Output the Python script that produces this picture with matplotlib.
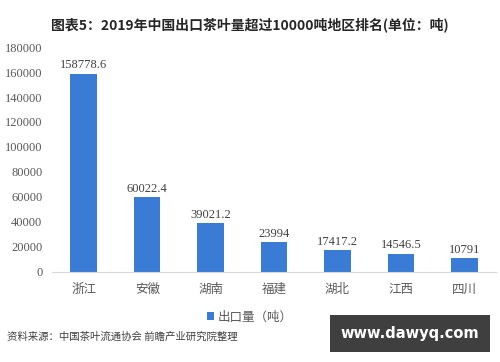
import matplotlib.pyplot as plt

plt.rcParams['font.family'] = ['Noto Sans CJK SC', 'DejaVu Sans']

# Data
regions = ["浙江", "安徽", "湖南", "福建", "湖北", "江西", "四川"]
exports = [158778.6, 60022.4, 39021.2, 23994, 17417.2, 14546.5, 10791]
value_labels = ["158778.6", "60022.4", "39021.2", "23994", "17417.2", "14546.5", "10791"]
yticks = [0, 20000, 40000, 60000, 80000, 100000, 120000, 140000, 160000, 180000]

fig = plt.figure(figsize=(5, 3.62), dpi=100)
ax = fig.add_axes([0.104, 0.249, 0.888, 0.621])

bars = ax.bar(regions, exports, width=0.42, color='#3a7bd5', label='出口量（吨）')

ax.set_ylim(0, 180000)
ax.set_xlim(-0.5, len(regions) - 0.5)
ax.set_yticks(yticks)
ax.set_yticklabels([str(t) for t in yticks], family='Liberation Serif', fontsize=9, color='#595959')
ax.tick_params(axis='y', length=0, pad=7)
ax.tick_params(axis='x', length=0, pad=8, labelsize=9, labelcolor='#595959')

for s in ['top', 'right', 'left']:
    ax.spines[s].set_visible(False)
ax.spines['bottom'].set_color('#d9d9d9')

# value labels
for bar, lab in zip(bars, value_labels):
    ax.text(bar.get_x() + bar.get_width() / 2, bar.get_height() + 1800, lab,
            ha='center', va='bottom', fontsize=9, color='#404040', family='Liberation Serif')

fig.text(0.5, 0.931, '图表5：2019年中国出口茶叶量超过10000吨地区排名(单位：吨)',
         ha='center', va='center', fontsize=10, fontweight='bold', color='#262626')

fig.legend(loc='center', bbox_to_anchor=(0.5, 0.124), frameon=False, fontsize=9,
           handlelength=0.6, handleheight=0.6, handletextpad=0.3, labelcolor='#595959')

fig.text(0.014, 0.069, '资料来源：中国茶叶流通协会 前瞻产业研究院整理',
         ha='left', va='center', fontsize=7.5, color='#404040')

# site watermark box
fig.text(0.82, 0.079, 'www.dawyq.com', ha='center', va='center', fontsize=10.5,
         color='white', family='DejaVu Sans', fontweight='bold',
         bbox=dict(boxstyle='square,pad=0.75', facecolor='#3f3f3f', edgecolor='none'))

fig.savefig('out.png', dpi=100)
